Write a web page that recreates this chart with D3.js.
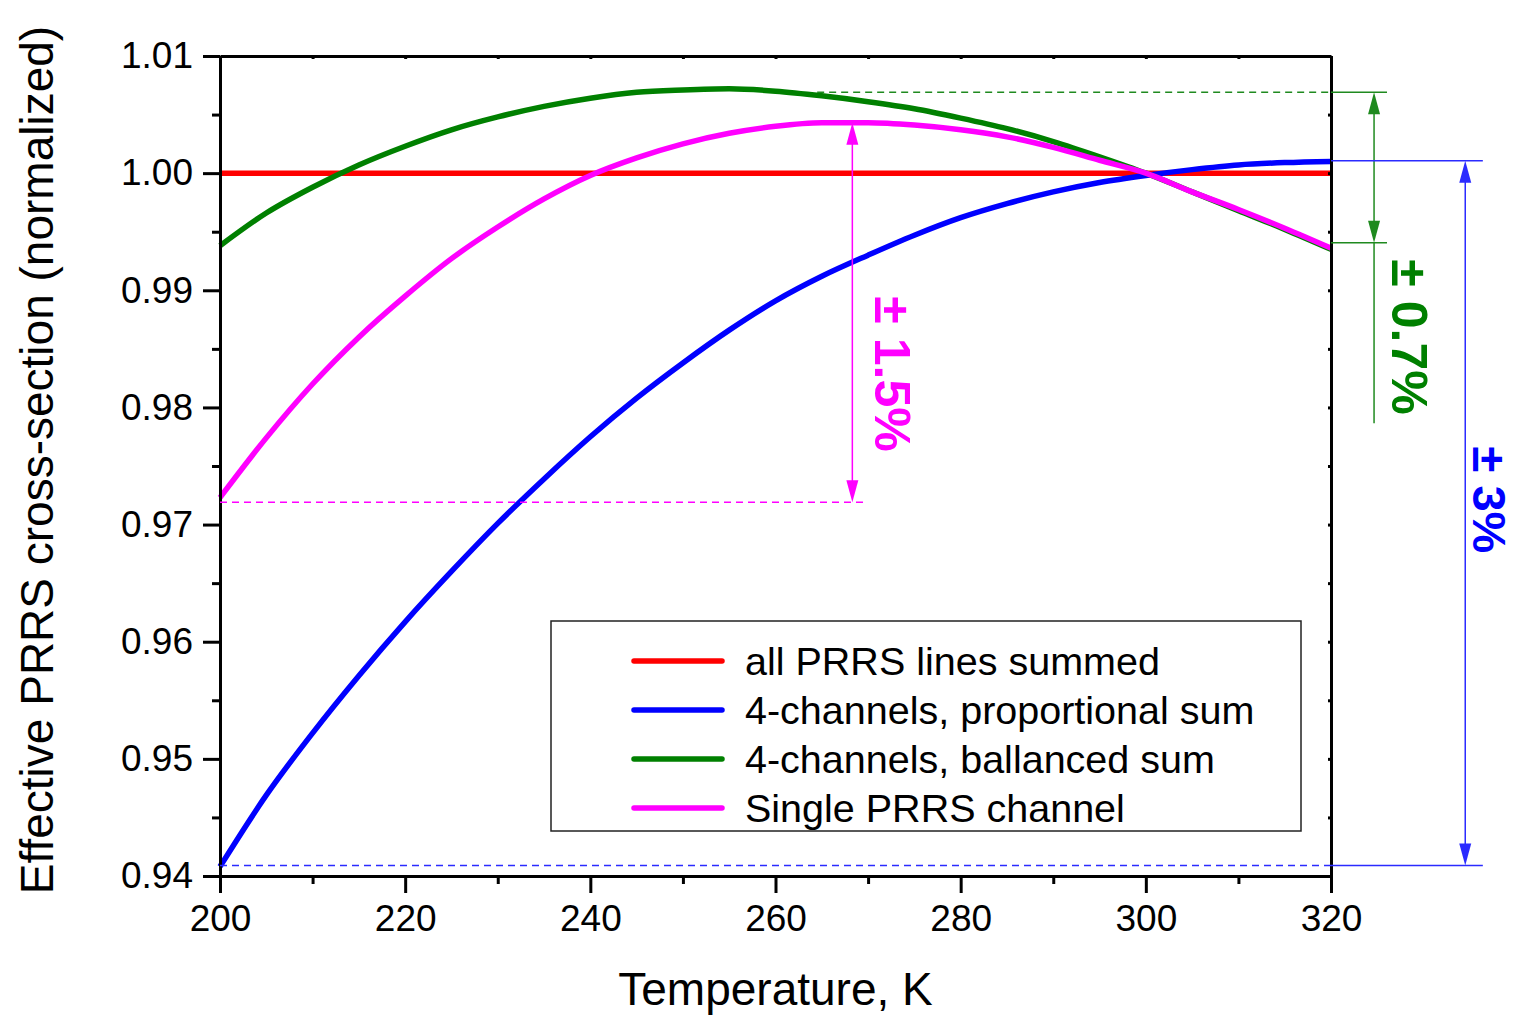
<!DOCTYPE html>
<html>
<head>
<meta charset="utf-8">
<script src="https://cdn.jsdelivr.net/npm/d3@7"></script>
<style>
  body { margin: 0; background: #fff; }
  svg { display: block; font-family: "Liberation Sans", Arial, sans-serif; }
</style>
</head>
<body>
<div id="chart"></div>
<script>
// temperatures (K) and normalized cross-sections
const temps = [200, 205, 210, 215, 220, 225, 230, 235, 240, 245, 250, 255, 260,
               265, 270, 275, 280, 285, 290, 295, 300, 305, 310, 315, 320];
const allSummed = [1, 1, 1, 1, 1, 1, 1, 1, 1, 1, 1, 1, 1, 1, 1, 1, 1, 1, 1, 1, 1, 1, 1, 1, 1];
const proportional = [0.9408, 0.9469, 0.9522, 0.9571, 0.9617, 0.9660, 0.9701, 0.9739, 0.9775,
                      0.9808, 0.9838, 0.9866, 0.9891, 0.9912, 0.9930, 0.9947, 0.9962, 0.9974,
                      0.9984, 0.9992, 0.9998, 1.0003, 1.0007, 1.0009, 1.0010];
const ballanced = [0.9938, 0.9966, 0.9988, 1.0007, 1.0023, 1.0037, 1.0048, 1.0057, 1.0064,
                   1.0069, 1.0071, 1.0072, 1.0070, 1.0066, 1.0061, 1.0055, 1.0047, 1.0038,
                   1.0027, 1.0014, 1.0000, 0.9984, 0.9968, 0.9952, 0.9935];
const single = [0.9723, 0.9774, 0.9820, 0.9860, 0.9895, 0.9927, 0.9954, 0.9978, 0.9998,
                1.0013, 1.0025, 1.0034, 1.0040, 1.0043, 1.0043, 1.0041, 1.0037, 1.0031,
                1.0022, 1.0011, 1.0000, 0.9984, 0.9969, 0.9953, 0.9936];

const seriesNames = ["all PRRS lines summed", "4-channels, proportional sum",
                     "4-channels, ballanced sum", "Single PRRS channel"];
const seriesColors = ["#ff0000", "#0000ff", "#008000", "#ff00ff"];
const seriesValues = [allSummed, proportional, ballanced, single];

const xTicks = [200, 220, 240, 260, 280, 300, 320];
const yTicks = [0.94, 0.95, 0.96, 0.97, 0.98, 0.99, 1.00, 1.01];

// spread brackets: T of the arrow, top value, bottom value, label
const spreadSingle = { t: 268.3, hi: 1.0043, lo: 0.9719, label: "± 1.5%" };
const spreadBallanced = { t: 324.65, hi: 1.0069, lo: 0.99405, label: "± 0.7%" };
const spreadProportional = { t: 334.5, hi: 1.00105, lo: 0.9409, label: "± 3%" };

const W = 1517, H = 1018;
const x = d3.scaleLinear().domain([200, 320]).range([220, 1331]);
const y = d3.scaleLinear().domain([0.94, 1.01]).range([876, 56]);

const svg = d3.select("#chart").append("svg")
    .attr("width", W).attr("height", H);

// curves
const line = d3.line()
    .x((d, i) => x(temps[i]))
    .y(d => y(d))
    .curve(d3.curveMonotoneX);

seriesValues.forEach((vals, k) => {
    svg.append("path")
        .datum(vals)
        .attr("d", line)
        .attr("fill", "none")
        .attr("stroke", seriesColors[k])
        .attr("stroke-width", 5.5)
        .attr("stroke-linejoin", "round");
});

// axes
const fontTick = "37px";
svg.append("g")
    .attr("transform", `translate(0,${y(0.94)})`)
    .call(d3.axisBottom(x).tickValues(xTicks).tickSize(17).tickSizeOuter(0).tickPadding(12).tickFormat(d3.format("d")))
    .call(g => g.selectAll("text").attr("font-size", fontTick).attr("font-family", "Liberation Sans, Arial, sans-serif").attr("fill", "#000"));
svg.append("g")
    .attr("transform", `translate(0,${y(0.94)})`)
    .call(d3.axisBottom(x).tickValues(d3.range(210, 320, 20)).tickSize(8).tickSizeOuter(0).tickFormat(""));

svg.append("g")
    .attr("transform", `translate(${x(200)},0)`)
    .call(d3.axisLeft(y).tickValues(yTicks).tickSize(17).tickSizeOuter(0).tickPadding(10).tickFormat(d3.format(".2f")))
    .call(g => g.selectAll("text").attr("font-size", fontTick).attr("font-family", "Liberation Sans, Arial, sans-serif").attr("fill", "#000"));
svg.append("g")
    .attr("transform", `translate(${x(200)},0)`)
    .call(d3.axisLeft(y).tickValues(d3.range(0.945, 1.01, 0.01)).tickSize(8).tickSizeOuter(0).tickFormat(""));

// top and right axes with tiny inner ticks
svg.append("g")
    .attr("transform", `translate(0,${y(1.01)})`)
    .call(d3.axisTop(x).tickValues(d3.range(200, 321, 10)).tickSize(-3).tickSizeOuter(0).tickFormat(""));
svg.append("g")
    .attr("transform", `translate(${x(320)},0)`)
    .call(d3.axisRight(y).tickValues(d3.range(0.94, 1.0101, 0.005)).tickSize(-3).tickSizeOuter(0).tickFormat(""));

svg.selectAll(".domain").attr("stroke", "#000").attr("stroke-width", 3);
svg.selectAll(".tick line").attr("stroke", "#000").attr("stroke-width", 3);

// axis titles
svg.append("text")
    .attr("x", (x(200) + x(320)) / 2)
    .attr("y", 1005)
    .attr("text-anchor", "middle")
    .attr("font-size", "46px")
    .text("Temperature, K");
svg.append("text")
    .attr("transform", `translate(53,${(y(0.94) + y(1.01)) / 2 - 6}) rotate(-90)`)
    .attr("text-anchor", "middle")
    .attr("font-size", "46px")
    .text("Effective PRRS cross-section (normalized)");

// legend
const legend = svg.append("g");
legend.append("rect")
    .attr("x", 551).attr("y", 621).attr("width", 750).attr("height", 210)
    .attr("fill", "#fff").attr("stroke", "#222").attr("stroke-width", 1.5);
seriesNames.forEach((name, k) => {
    const ly = 661 + k * 49;
    legend.append("line")
        .attr("x1", 634).attr("x2", 722).attr("y1", ly).attr("y2", ly)
        .attr("stroke", seriesColors[k]).attr("stroke-width", 5.5).attr("stroke-linecap", "round");
    legend.append("text")
        .attr("x", 745).attr("y", ly + 14)
        .attr("font-size", "39.5px")
        .text(name);
});

// annotation helpers
function hline(t1, t2, v, color, dashed) {
    svg.append("line")
        .attr("x1", x(t1)).attr("x2", x(t2)).attr("y1", y(v)).attr("y2", y(v))
        .attr("stroke", color).attr("stroke-width", 1.5)
        .attr("stroke-dasharray", dashed ? "7,5" : null);
}
function arrow(t, v1, v2, color) {
    const ax = x(t), y1 = y(v1), y2 = y(v2);
    svg.append("line")
        .attr("x1", ax).attr("x2", ax).attr("y1", y1 + 10).attr("y2", y2 - 10)
        .attr("stroke", color).attr("stroke-width", 1.5);
    svg.append("path")
        .attr("d", `M${ax},${y1} L${ax - 6},${y1 + 22} L${ax + 6},${y1 + 22} Z`)
        .attr("fill", color);
    svg.append("path")
        .attr("d", `M${ax},${y2} L${ax - 6},${y2 - 22} L${ax + 6},${y2 - 22} Z`)
        .attr("fill", color);
}
function label(px, py, text, color, size) {
    svg.append("text")
        .attr("transform", `translate(${px},${py}) rotate(90)`)
        .attr("text-anchor", "middle")
        .attr("font-size", size)
        .attr("font-weight", "bold")
        .attr("fill", color)
        .text(text);
}

// single channel spread (magenta)
const mag = "#ff00ff";
hline(200, 269.9, spreadSingle.lo, mag, true);
arrow(spreadSingle.t, spreadSingle.hi, spreadSingle.lo, mag);
label(875, 374, spreadSingle.label, mag, "50px");

// ballanced sum spread (green)
const grn = "#1f8a1f";
hline(264.5, 320, spreadBallanced.hi, grn, true);
hline(320, 326.05, spreadBallanced.hi, grn, false);
hline(320, 326.05, spreadBallanced.lo, grn, false);
arrow(spreadBallanced.t, spreadBallanced.hi, spreadBallanced.lo, grn);
svg.append("line")
    .attr("x1", x(spreadBallanced.t)).attr("x2", x(spreadBallanced.t))
    .attr("y1", y(spreadBallanced.lo)).attr("y2", y(0.97865))
    .attr("stroke", grn).attr("stroke-width", 1.5);
label(1392, 337, spreadBallanced.label, "#008000", "50px");

// proportional sum spread (blue)
const blu = "#2b2bff";
hline(200, 320, spreadProportional.lo, blu, true);
hline(320, 336.4, spreadProportional.hi, blu, false);
hline(320, 336.4, spreadProportional.lo, blu, false);
arrow(spreadProportional.t, spreadProportional.hi, spreadProportional.lo, blu);
label(1473, 500, spreadProportional.label, "#0000ff", "47px");
</script>
</body>
</html>
